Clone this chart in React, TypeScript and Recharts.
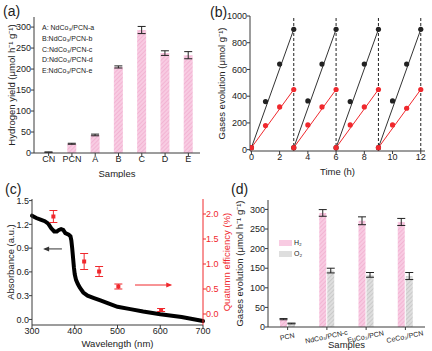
import React from 'react';
import {
  BarChart, ComposedChart, Bar, Line, Scatter, XAxis, YAxis, ErrorBar,
  ReferenceLine, ReferenceDot, Label,
} from 'recharts';

const FONT = '"Liberation Sans", Arial, Helvetica, sans-serif';
const INK = '#222';
const AXIS = '#3a3a3a';
const RED = '#f0282d';

// (a) hydrogen yield per sample
const samplesA = ['CN', 'PCN', 'A', 'B', 'C', 'D', 'E'];
const yieldA = [2, 22, 43, 205, 293, 238, 233];
const yieldErrA = [0.5, 1.2, 2, 2.5, 8.5, 5.5, 8.5];
const legendA = ['A: NdCo₃/PCN-a', 'B:NdCo₃/PCN-b', 'C:NdCo₃/PCN-c', 'D:NdCo₃/PCN-d', 'E:NdCo₃/PCN-e'];

// (b) cycling test, four 3 h runs
const timeB = [0, 1, 2, 3, 3, 4, 5, 6, 6, 7, 8, 9, 9, 10, 11, 12];
const h2B = [15, 360, 640, 900, 15, 365, 640, 900, 15, 360, 640, 900, 15, 365, 640, 900];
const o2B = [15, 180, 320, 450, 15, 185, 320, 450, 15, 185, 320, 450, 15, 185, 310, 450];
const runEnds = [3, 6, 9, 12];

// (c) UV-vis absorbance + quantum efficiency
const waveC = [300, 310, 320, 330, 338, 345, 352, 358, 363, 368, 373, 378, 386, 390, 392, 394, 396, 398, 400, 403, 407, 412, 420, 430, 445, 460, 480, 500, 530, 560, 600, 650, 700];
const absC = [1.31, 1.28, 1.26, 1.24, 1.21, 1.15, 1.11, 1.11, 1.13, 1.14, 1.13, 1.09, 1.07, 1.05, 1.0, 0.9, 0.78, 0.66, 0.57, 0.5, 0.45, 0.4, 0.34, 0.3, 0.27, 0.24, 0.2, 0.16, 0.13, 0.1, 0.065, 0.03, -0.02];
const qeWave = [350, 422, 457, 502, 602];
const qeVal = [1.95, 1.05, 0.85, 0.55, 0.08];
const qeErr = [0.12, 0.16, 0.1, 0.05, 0.03];

// (d) H2 / O2 evolution for the three cocatalysts
const samplesD = ['PCN', 'NdCo₃/PCN-c', 'EuCo₃/PCN', 'CeCo₃/PCN'];
const h2D = [20, 291, 271, 268];
const h2ErrD = [1.5, 8.5, 10, 9];
const o2D = [9, 144, 133, 130];
const o2ErrD = [1, 6, 6, 9];

const tick = { fontSize: 9, fill: INK, fontFamily: FONT };
const labelStyle = { fontSize: 9.5, fill: INK, fontFamily: FONT };
const vLabel = { ...labelStyle, textAnchor: 'middle' as const };

const Hatch = ({ id, base, line }: { id: string; base: string; line: string }) => (
  <pattern id={id} width="3" height="3" patternUnits="userSpaceOnUse" patternTransform="rotate(45)">
    <rect width="3" height="3" fill={base} />
    <rect width="1" height="3" fill={line} />
  </pattern>
);

const dot = (color: string) => (p: any) => <circle cx={p.cx} cy={p.cy} r={2.6} fill={color} />;
const square = (color: string) => (p: any) => <rect x={p.cx - 2} y={p.cy - 2} width={4} height={4} fill={color} />;
const arrowHead = (color: string, dir: number) => (p: any) => (
  <path d={`M${p.cx},${p.cy} L${p.cx - dir * 6},${p.cy - 2.5} L${p.cx - dir * 6},${p.cy + 2.5} Z`} fill={color} />
);

const SlantTick = (props: any) => {
  const { x, y, payload } = props;
  return (
    <g transform={`translate(${x},${y + 7})`}>
      <text transform="rotate(-12)" textAnchor="middle" fontSize={7} fill={INK} fontFamily={FONT}>{payload.value}</text>
    </g>
  );
};

function PanelA() {
  const data = samplesA.map((name, i) => ({ name, y: yieldA[i], err: yieldErrA[i] }));
  return (
    <BarChart width={216} height={178} data={data} margin={{ top: 17, right: 16, left: 8, bottom: 0 }} barSize={9}>
      <defs>
        <Hatch id="pinkA" base="#f8cbe2" line="#f2b4d3" />
      </defs>
      <XAxis dataKey="name" height={25} interval={0} padding={{ left: 3, right: 0 }} tick={tick} tickSize={3} tickMargin={0} stroke={AXIS}>
        <Label value="Samples" position="insideBottom" offset={1} style={labelStyle} />
      </XAxis>
      <XAxis xAxisId="top" orientation="top" dataKey="name" height={0} tick={false} tickLine={false} stroke={AXIS} />
      <YAxis type="number" domain={[0, 324]} ticks={[0, 50, 100, 150, 200, 250, 300]} width={26} tick={tick} tickSize={3} tickMargin={0} stroke={AXIS}>
        <Label value="Hydrogen yield (μmol h⁻¹ g⁻¹)" angle={-90} position="insideLeft" offset={4} style={vLabel} />
      </YAxis>
      <YAxis yAxisId="r" orientation="right" type="number" domain={[0, 1]} width={0} tick={false} tickLine={false} stroke={AXIS} />
      <Bar dataKey="y" fill="url(#pinkA)" isAnimationActive={false}>
        <ErrorBar dataKey="err" width={4} stroke={INK} strokeWidth={1} />
      </Bar>
    </BarChart>
  );
}

function PanelB() {
  const points = timeB.map((t, i) => ({ t, h2: h2B[i], o2: o2B[i] }));
  const runs = runEnds.map((_, k) => points.slice(4 * k, 4 * k + 4));
  return (
    <ComposedChart width={216} height={178} margin={{ top: 16, right: 7, left: 6, bottom: 2 }}>
      <XAxis type="number" dataKey="t" domain={[-0.1, 12.3]} ticks={[0, 2, 4, 6, 8, 10, 12]} height={25} tick={tick} tickSize={3} tickMargin={0} stroke={AXIS} allowDataOverflow>
        <Label value="Time (h)" position="insideBottom" offset={1} style={labelStyle} />
      </XAxis>
      <XAxis xAxisId="top" orientation="top" type="number" domain={[0, 1]} height={0} tick={false} tickLine={false} stroke={AXIS} />
      <YAxis type="number" domain={[-10, 1000]} ticks={[0, 200, 400, 600, 800, 1000]} width={28} tick={tick} tickSize={3} tickMargin={0} stroke={AXIS} allowDataOverflow>
        <Label value="Gases evolution (μmol g⁻¹)" angle={-90} position="insideLeft" offset={0} style={vLabel} />
      </YAxis>
      <YAxis yAxisId="r" orientation="right" type="number" domain={[0, 1]} width={0} tick={false} tickLine={false} stroke={AXIS} />
      {runEnds.map((x) => (
        <ReferenceLine key={x} x={x} stroke="#222" strokeDasharray="3 2" />
      ))}
      {runs.map((run, k) => (
        <Line key={'h' + k} data={[run[0], run[3]]} dataKey="h2" stroke="#333" strokeWidth={1} dot={false} isAnimationActive={false} />
      ))}
      {runs.map((run, k) => (
        <Line key={'o' + k} data={[run[0], run[3]]} dataKey="o2" stroke={RED} strokeWidth={1} dot={false} isAnimationActive={false} />
      ))}
      <Scatter data={points} dataKey="h2" shape={dot('#222')} isAnimationActive={false} />
      <Scatter data={points} dataKey="o2" shape={dot(RED)} isAnimationActive={false} />
    </ComposedChart>
  );
}

function PanelC() {
  const absData = waveC.map((nm, i) => ({ nm, a: absC[i] }));
  const qeData = qeWave.map((nm, i) => ({ nm, q: qeVal[i], e: qeErr[i] }));
  const fmt = (v: number) => v.toFixed(1);
  return (
    <ComposedChart width={240} height={173} margin={{ top: 21, right: 7, left: 4, bottom: 4 }}>
      <XAxis type="number" dataKey="nm" domain={[300, 700]} ticks={[300, 400, 500, 600, 700]} height={22} tick={tick} tickSize={3} tickMargin={0} stroke={AXIS}>
        <Label value="Wavelength (nm)" position="insideBottom" offset={0} style={labelStyle} />
      </XAxis>
      <XAxis xAxisId="top" orientation="top" type="number" domain={[0, 1]} height={0} tick={false} tickLine={false} stroke={AXIS} />
      <YAxis yAxisId="abs" type="number" domain={[-0.07, 1.52]} ticks={[0, 0.3, 0.6, 0.9, 1.2, 1.5]} tickFormatter={fmt} width={28} tick={tick} tickSize={3} tickMargin={0} stroke={AXIS} allowDataOverflow>
        <Label value="Absorbance (a.u.)" angle={-90} position="insideLeft" offset={7} style={vLabel} />
      </YAxis>
      <YAxis yAxisId="qe" orientation="right" type="number" domain={[-0.22, 2.3]} ticks={[0, 0.5, 1, 1.5, 2]} tickFormatter={fmt} width={30} tick={{ ...tick, fill: RED }} tickSize={3} tickMargin={0} stroke={RED} allowDataOverflow>
        <Label value="Quatumn efficiency (%)" angle={-90} position="insideRight" offset={6} style={{ ...vLabel, fill: RED }} />
      </YAxis>
      <Line yAxisId="abs" data={absData} dataKey="a" type="linear" stroke="#000" strokeWidth={4} strokeLinecap="round" dot={false} isAnimationActive={false} />
      <Scatter yAxisId="qe" data={qeData} dataKey="q" shape={square(RED)} isAnimationActive={false}>
        <ErrorBar dataKey="e" direction="y" width={4} stroke={RED} strokeWidth={1} />
      </Scatter>
      <ReferenceLine yAxisId="abs" segment={[{ x: 370, y: 0.89 }, { x: 330, y: 0.89 }]} stroke="#333" strokeWidth={1} />
      <ReferenceDot yAxisId="abs" x={326} y={0.89} shape={arrowHead('#333', -1)} />
      <ReferenceLine yAxisId="qe" segment={[{ x: 541, y: 0.58 }, { x: 624, y: 0.58 }]} stroke={RED} strokeWidth={1} />
      <ReferenceDot yAxisId="qe" x={628} y={0.58} shape={arrowHead(RED, 1)} />
    </ComposedChart>
  );
}

function PanelD() {
  const data = samplesD.map((name, i) => ({ name, h2: h2D[i], h2e: h2ErrD[i], o2: o2D[i], o2e: o2ErrD[i] }));
  return (
    <BarChart width={216} height={173} data={data} margin={{ top: 22, right: 7, left: 22, bottom: 0 }} barSize={7} barGap={1}>
      <defs>
        <Hatch id="pinkD" base="#f8cbe2" line="#f2b4d3" />
        <Hatch id="grayD" base="#dedede" line="#cacaca" />
      </defs>
      <XAxis dataKey="name" height={24} interval={0} tick={<SlantTick />} tickSize={3} stroke={AXIS}>
        <Label value="Samples" position="insideBottom" offset={3} style={labelStyle} />
      </XAxis>
      <XAxis xAxisId="top" orientation="top" dataKey="name" height={0} tick={false} tickLine={false} stroke={AXIS} />
      <YAxis type="number" domain={[0, 324]} ticks={[0, 50, 100, 150, 200, 250, 300]} width={30} tick={tick} tickSize={3} tickMargin={0} stroke={AXIS}>
        <Label value="Gases evolution (μmol h⁻¹ g⁻¹)" angle={-90} position="insideLeft" offset={2} style={vLabel} />
      </YAxis>
      <YAxis yAxisId="r" orientation="right" type="number" domain={[0, 1]} width={0} tick={false} tickLine={false} stroke={AXIS} />
      <Bar dataKey="h2" fill="url(#pinkD)" isAnimationActive={false}>
        <ErrorBar dataKey="h2e" width={4} stroke={INK} strokeWidth={1} />
      </Bar>
      <Bar dataKey="o2" fill="url(#grayD)" isAnimationActive={false}>
        <ErrorBar dataKey="o2e" width={4} stroke={INK} strokeWidth={1} />
      </Bar>
    </BarChart>
  );
}

const panelTag = (text: string, left: number, top: number) => (
  <div style={{ position: 'absolute', left, top, fontSize: 14, lineHeight: '14px', color: INK }}>{text}</div>
);

export default function App() {
  return (
    <div style={{ position: 'absolute', left: 0, top: 0, width: 432, height: 351, background: '#fff', fontFamily: FONT, overflow: 'hidden' }}>
      <div style={{ position: 'absolute', left: 0, top: 0 }}><PanelA /></div>
      <div style={{ position: 'absolute', left: 216, top: 0 }}><PanelB /></div>
      <div style={{ position: 'absolute', left: 0, top: 178 }}><PanelC /></div>
      <div style={{ position: 'absolute', left: 216, top: 178 }}><PanelD /></div>

      {panelTag('(a)', 3, 4)}
      {panelTag('(b)', 210, 5)}
      {panelTag('(c)', 5, 182)}
      {panelTag('(d)', 231, 182)}

      <div style={{ position: 'absolute', left: 42, top: 23, fontSize: 7, lineHeight: '10.8px', color: INK }}>
        {legendA.map((t) => <div key={t}>{t}</div>)}
      </div>

      <div style={{ position: 'absolute', left: 279, top: 237, fontSize: 7, color: INK }}>
        <div style={{ display: 'flex', alignItems: 'center', height: 11 }}>
          <span style={{ width: 13, height: 6, background: '#f8cbe2', marginRight: 2 }} />H₂
        </div>
        <div style={{ display: 'flex', alignItems: 'center', height: 11 }}>
          <span style={{ width: 13, height: 6, background: '#dedede', marginRight: 2 }} />O₂
        </div>
      </div>
    </div>
  );
}
